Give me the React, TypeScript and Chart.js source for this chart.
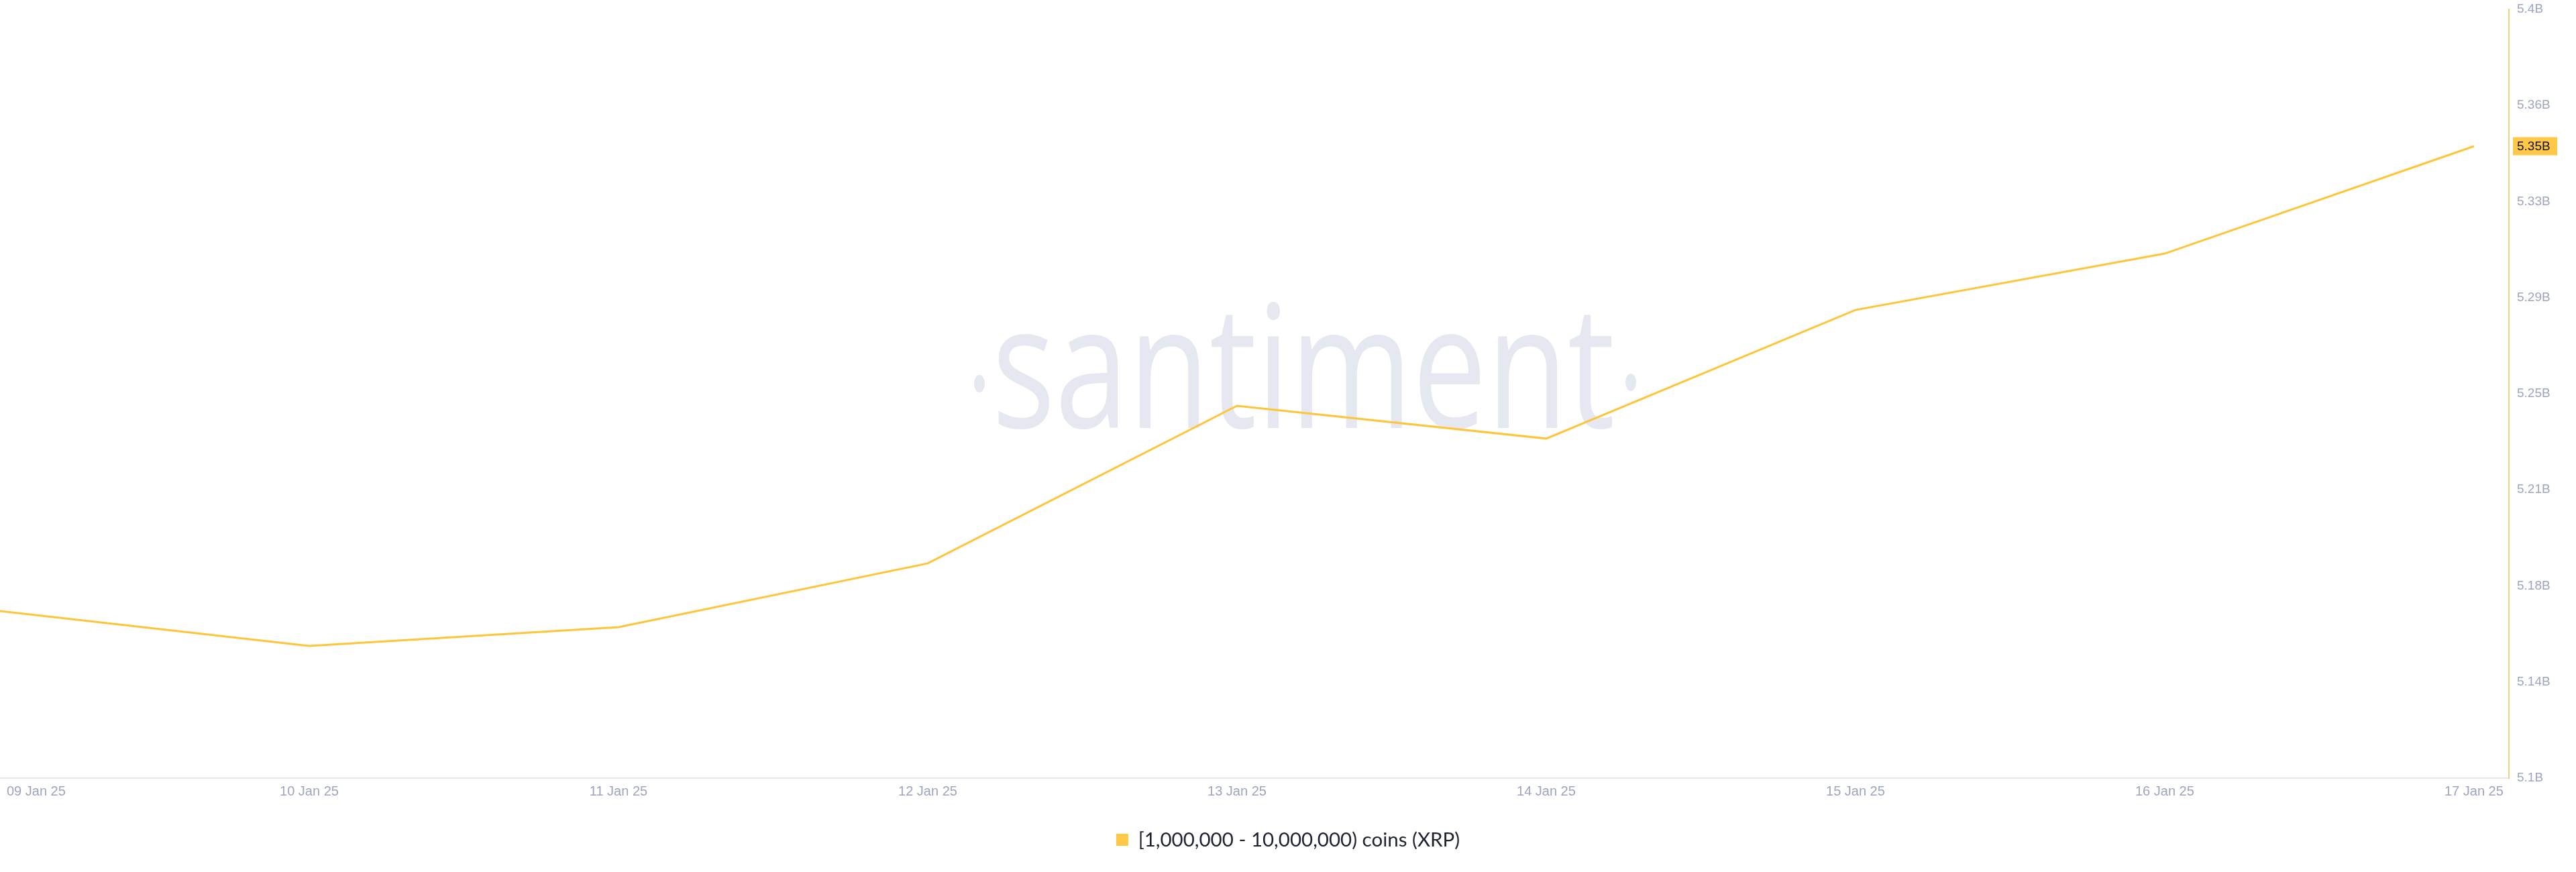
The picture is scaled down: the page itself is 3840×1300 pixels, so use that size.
import React, { useEffect, useRef } from "react";
import { Chart, registerables } from "chart.js";

Chart.register(...registerables);

// ---- data ----
const dates = [
  "09 Jan 25",
  "10 Jan 25",
  "11 Jan 25",
  "12 Jan 25",
  "13 Jan 25",
  "14 Jan 25",
  "15 Jan 25",
  "16 Jan 25",
  "17 Jan 25",
];
const holdings = [
  5.1652e9, 5.1516e9, 5.1589e9, 5.1838e9, 5.2453e9, 5.2325e9, 5.2827e9,
  5.3047e9, 5.3466e9,
];
const yTicks = [
  5.1e9, 5.1375e9, 5.175e9, 5.2125e9, 5.25e9, 5.2875e9, 5.325e9, 5.3625e9,
  5.4e9,
];
const seriesLabel = "[1,000,000 - 10,000,000) coins (XRP)";
const watermarkText = "santiment";

const LINE_COLOR = "#ffc53a";
const BADGE_COLOR = "#ffc847";
const TICK_COLOR = "#9ea5bf";

const fmtB = (v: number) => (Math.round(v / 1e7) / 100).toString() + "B";

const watermarkPlugin = {
  id: "watermark",
  beforeDatasetsDraw(chart: any) {
    const ctx = chart.ctx;
    ctx.save();
    ctx.fillStyle = "#e5e8f0";
    ctx.font = '400 254px "Open Sans"';
    ctx.textBaseline = "alphabetic";
    ctx.textAlign = "left";
    const m = ctx.measureText(watermarkText);
    const inkW = m.actualBoundingBoxLeft + m.actualBoundingBoxRight;
    const targetW = 915;
    const sx = targetW / inkW;
    const left = 1488;
    const baseline = 638;
    ctx.translate(left, baseline);
    ctx.scale(sx, 1);
    ctx.fillText(watermarkText, m.actualBoundingBoxLeft, 0);
    ctx.restore();
    ctx.save();
    ctx.fillStyle = "#e5e8f0";
    ctx.beginPath();
    ctx.ellipse(1460, 572, 8, 13, 0, 0, Math.PI * 2);
    ctx.fill();
    ctx.beginPath();
    ctx.ellipse(2431, 570, 8, 13, 0, 0, Math.PI * 2);
    ctx.fill();
    ctx.restore();
  },
};

const firstLabelPlugin = {
  id: "firstLabel",
  beforeDraw(chart: any) {
    const s = chart.scales.x;
    const items = s.getLabelItems(chart.chartArea);
    if (items && items.length) {
      const o = items[0].options;
      o.textAlign = "left";
      o.translation = [10, o.translation[1]];
    }
  },
};

const badgePlugin = {
  id: "lastBadge",
  afterDraw(chart: any) {
    const y = chart.scales.y;
    const last = holdings[holdings.length - 1];
    const py = y.getPixelForValue(last);
    const ctx = chart.ctx;
    ctx.save();
    ctx.fillStyle = BADGE_COLOR;
    ctx.fillRect(y.left + 6, py - 13.5, 66, 27);
    ctx.fillStyle = "#111111";
    ctx.font = '19px "Liberation Sans"';
    ctx.textBaseline = "middle";
    ctx.textAlign = "left";
    ctx.fillText(fmtB(last), y.left + 12, py + 1);
    ctx.restore();
  },
};

export default function App() {
  const canvasRef = useRef<HTMLCanvasElement | null>(null);

  useEffect(() => {
    document.body.style.margin = "0";
    const canvas = canvasRef.current;
    if (!canvas) return;
    const chart = new Chart(canvas, {
      type: "line",
      data: {
        datasets: [
          {
            label: seriesLabel,
            data: holdings.map((v, i) => ({ x: i, y: v })),
            borderColor: LINE_COLOR,
            backgroundColor: BADGE_COLOR,
            borderWidth: 3,
            pointRadius: 0,
            tension: 0,
            fill: false,
          },
        ],
      },
      options: {
        responsive: false,
        devicePixelRatio: 1,
        animation: false,
        layout: { padding: { top: 14, bottom: 23.25, left: 0, right: 0 } },
        plugins: {
          tooltip: { enabled: false },
          legend: {
            display: true,
            position: "bottom",
            labels: {
              boxWidth: 18,
              boxHeight: 18,
              padding: 10,
              color: "#1e2332",
              font: { family: "Lato", size: 29.5 },
              generateLabels: (c: any) =>
                c.data.datasets.map((ds: any, i: number) => ({
                  text: ds.label,
                  fillStyle: BADGE_COLOR,
                  strokeStyle: BADGE_COLOR,
                  lineWidth: 0,
                  hidden: false,
                  datasetIndex: i,
                  fontColor: "#1e2332",
                })),
            },
          },
        },
        scales: {
          x: {
            type: "linear",
            min: 0,
            max: 8.113,
            grid: { display: false, drawTicks: false },
            border: { display: true, color: "#e6e7eb", width: 2 },
            afterBuildTicks: (scale: any) => {
              scale.ticks = dates.map((_, i) => ({ value: i }));
            },
            afterFit: (scale: any) => {
              scale.height = 67.25;
              scale.paddingLeft = 0;
              scale.paddingRight = 0;
            },
            ticks: {
              autoSkip: false,
              maxRotation: 0,
              minRotation: 0,
              padding: 8,
              color: TICK_COLOR,
              font: { family: "Liberation Sans", size: 20 },
              callback: (v: any) => dates[Math.round(Number(v))] ?? "",
            },
          },
          y: {
            type: "linear",
            position: "right",
            min: 5.1e9,
            max: 5.4e9,
            grid: { display: false, drawTicks: false },
            border: { display: true, color: "#efd27a", width: 2 },
            afterBuildTicks: (scale: any) => {
              scale.ticks = yTicks.map((v) => ({ value: v }));
            },
            afterFit: (scale: any) => {
              scale.width = 100;
              scale.paddingTop = 0;
              scale.paddingBottom = 0;
            },
            ticks: {
              padding: 12,
              color: TICK_COLOR,
              font: { family: "Liberation Sans", size: 19 },
              callback: (v: any) => fmtB(Number(v)),
            },
          },
        },
      },
      plugins: [watermarkPlugin, firstLabelPlugin, badgePlugin],
    } as any);
    return () => chart.destroy();
  }, []);

  return (
    <div style={{ position: "absolute", left: 0, top: 0, width: 3840, height: 1300, background: "#ffffff" }}>
      <canvas ref={canvasRef} width={3840} height={1300} style={{ display: "block" }} />
    </div>
  );
}
